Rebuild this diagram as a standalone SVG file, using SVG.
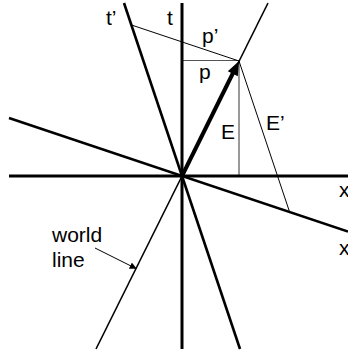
<svg xmlns="http://www.w3.org/2000/svg" width="348" height="353" viewBox="0 0 348 353">
<style>
.axis{stroke:#000;stroke-width:3;fill:none;stroke-linecap:butt}
.axis2{stroke:#000;stroke-width:2.6;fill:none}
.wl{stroke:#000;stroke-width:1.6;fill:none}
.thin{stroke:#000;stroke-width:1;fill:none}
.gray{stroke:#555;stroke-width:1.2;fill:none}
text{font-family:"Liberation Sans",Arial,sans-serif;font-size:21px;fill:#000}
</style>
<defs>
<marker id="ah" viewBox="0 0 10 10" refX="9" refY="5" markerWidth="7" markerHeight="7" markerUnits="userSpaceOnUse" orient="auto">
<path d="M0,0 L10,5 L0,10 z" fill="#000"/>
</marker>
</defs>
<rect width="348" height="353" fill="#fff"/>
<g id="connectors">
<line class="gray" x1="182" y1="60.5" x2="239" y2="60.5"/>
<line class="gray" x1="239" y1="60.5" x2="239" y2="176"/>
<line class="thin" x1="131.5" y1="25" x2="239" y2="61"/>
<line class="thin" x1="239" y1="61" x2="289.6" y2="212"/>
<line class="axis" x1="9" y1="176" x2="348" y2="176"/>
<line class="axis" x1="182" y1="3" x2="182" y2="349"/>
<line class="axis2" x1="124" y1="3" x2="240" y2="349"/>
<line class="axis2" x1="9" y1="118" x2="348" y2="231.6"/>
<line class="wl" x1="96" y1="349" x2="268" y2="3"/>
<line stroke="#000" stroke-width="4" x1="182" y1="176" x2="233" y2="73"/>
<path d="M239,61 L237.8,76.2 L227.8,71.3 z" fill="#000"/>
<line class="thin" x1="95" y1="248" x2="136" y2="268.5" marker-end="url(#ah)"/>
</g>
<g id="labels">
<text x="106" y="25">t’</text>
<text x="167" y="25">t</text>
<text x="202" y="43">p’</text>
<text x="199" y="79">p</text>
<text x="221" y="139">E</text>
<text x="266" y="130">E’</text>
<text x="339" y="197">x</text>
<text x="339" y="255">x’</text>
<text x="52" y="242">world</text>
<text x="52" y="267">line</text>
</g>
</svg>
